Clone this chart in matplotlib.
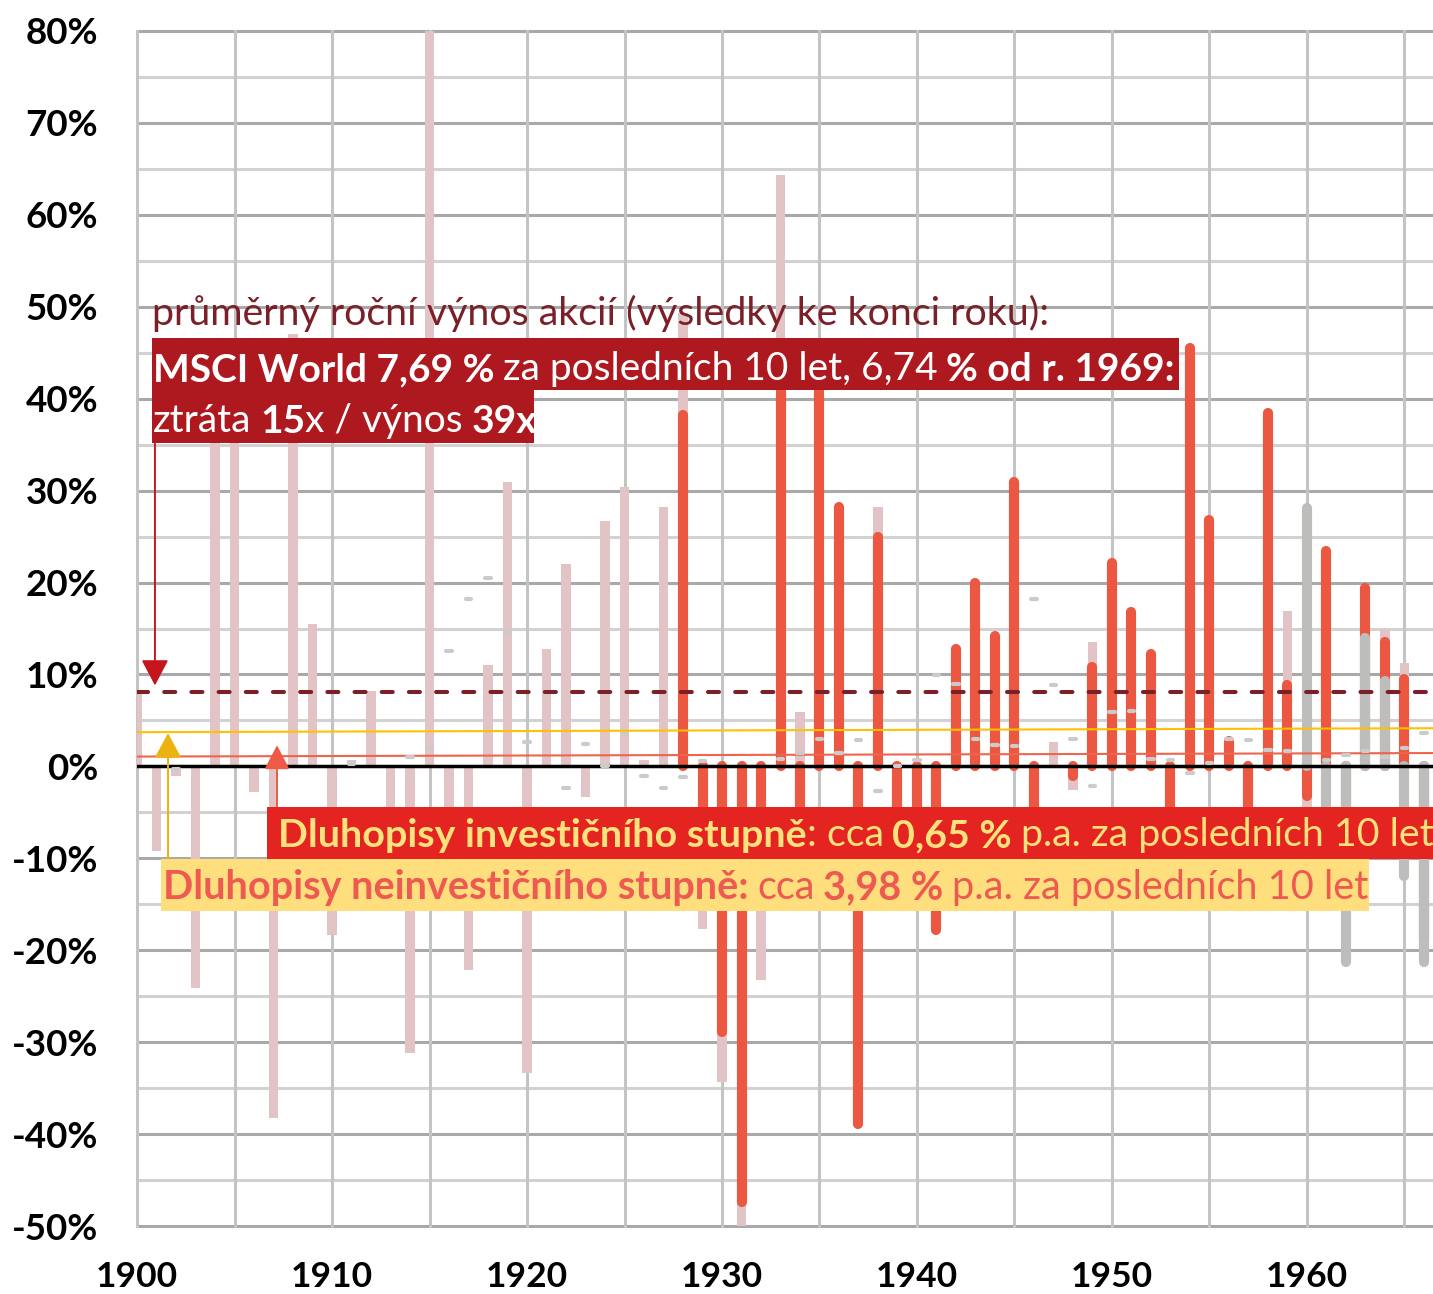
import numpy as np
import matplotlib.pyplot as plt
from matplotlib.patches import Rectangle, FancyArrowPatch
from matplotlib.text import Annotation

plt.rcParams['font.family'] = ['Lato', 'DejaVu Sans']

# ---- data (annual returns, %) ----
years = np.arange(1900, 1967)

# light pink series (whole range, drawn behind)
pink = [8.0, -9.2, -1.0, -24.1, 40.0, 38.0, -2.8, -38.3, 47.0, 15.5,
        -18.3, 0.7, 8.2, -5.0, -31.2, 82.0, -8.0, -22.2, 11.0, 30.9,
        -33.4, 12.8, 22.0, -3.3, 26.7, 30.4, 0.7, 28.2, 49.3, -17.7,
        -34.3, -52.0, -23.2, 64.3, 5.9, None, None, None, 28.2, None,
        None, None, None, None, None, None, None, 2.7, -2.6, 13.5,
        None, None, None, None, None, None, None, None, None, 16.9,
        -7.0, None, None, None, 15.0, 11.3, None]

# red series from 1928
red_years = np.arange(1928, 1967)
red = [38.2, -12.0, -28.9, -47.4, -9.0, 45.0, -6.0, 44.0, 28.2, -38.9,
       24.9, -5.5, -8.0, -17.8, 12.8, 19.9, 14.2, 30.9, -6.0, None,
       -1.0, 10.8, 22.1, 16.8, 12.2, -6.0, 45.5, 26.8, 2.8, -7.0,
       38.4, 8.8, -3.2, 23.4, -15.0, 19.4, 13.5, 9.5, -19.0]

# gray series from 1960
gray_years = np.arange(1960, 1967)
gray = [28.1, -10.0, -21.3, 14.0, 9.3, -11.9, -21.3]

# small gray markers (bonds)
bond = [None, None, -0.3, None, None, None, None, None, None, None,
        None, 0.3, None, None, 1.0, 2.0, 12.6, 18.2, 20.5, 14.6,
        2.6, None, -2.3, 2.4, 0.0, 3.5, -1.1, -2.3, -1.2, 0.6,
        None, None, None, 0.8, 1.5, 3.0, 1.5, 2.9, -2.7, 0.0,
        0.7, 9.9, 9.0, 3.0, 2.3, 2.2, 18.2, 8.8, 3.0, -2.1,
        5.9, 6.0, 0.8, 0.7, -0.7, 0.4, 3.0, 2.9, 1.8, 1.7,
        None, 0.7, 1.2, 1.7, 1.0, 2.0, 3.6]

msci_avg = 8.1            # dashed line
hy_line = [3.72, 4.15]    # yellow line, start / end
ig_line = [1.07, 1.45]    # thin red line, start / end

ylabels = list(range(-50, 81, 10))
xlabels = list(range(1900, 1961, 10))

# ---- figure ----
W, H = 1433, 1294
fig = plt.figure(figsize=(W / 100, H / 100), dpi=100)


def fx(px):
    return px / W


def fy(py):
    return 1 - py / H


ax = fig.add_axes([fx(137), fy(1226), fx(1433) - fx(137), fy(31) - fy(1226)])
xmax = 1900 + (1433 - 137) / 19.5
ax.set_xlim(1900, xmax)
ax.set_ylim(-50, 80)
for s in ax.spines.values():
    s.set_visible(False)

# grid
for yv in range(-50, 81, 5):
    ax.axhline(yv, color='#a9a9a9' if yv % 10 == 0 else '#d2d2d2', lw=2.2, zorder=0, clip_on=False)
for xv in range(1900, 1967, 5):
    ax.axvline(xv, color='#c4c4c4', lw=2.2, zorder=0, clip_on=False)


def arr(v):
    return np.array([np.nan if a is None else a for a in v], dtype=float)


p = arr(pink)
m = ~np.isnan(p)
ax.bar(years[m], p[m], width=0.5, color='#e3c4c6', zorder=2)

r = arr(red)
m = ~np.isnan(r)
lc = ax.vlines(red_years[m], 0, r[m], color='#eb5740', lw=7.3, zorder=3)
lc.set_capstyle('round')

g = arr(gray)
lc = ax.vlines(gray_years, 0, g, color='#bdbdbb', lw=7.3, zorder=4)
lc.set_capstyle('round')

ax.axhline(0, color='black', lw=2.5, zorder=5)
ax.axhline(msci_avg, color='#7b1f28', lw=2.9, ls=(0, (2.75, 4.0)),
           dash_capstyle='round', zorder=6)
ax.plot([1900, xmax], hy_line, color='#ffc000', lw=1.5, zorder=6)
ax.plot([1900, xmax], ig_line, color='#f0634d', lw=1.5, zorder=6)

b = arr(bond)
m = ~np.isnan(b)
lc = ax.hlines(b[m], years[m] - 0.15, years[m] + 0.15, color='#cbcbcb', lw=3, zorder=7)
lc.set_capstyle('round')

# arrows
def arrow(x, y0, y1, color, lw, hl, hw):
    a = FancyArrowPatch((x, y0), (x, y1),
                        arrowstyle='-|>,head_length=%s,head_width=%s' % (hl, hw),
                        mutation_scale=20, color=color, lw=lw,
                        shrinkA=0, shrinkB=0, zorder=8)
    ax.add_patch(a)


arrow(1900.92, 35.1, msci_avg + 0.7, '#c4161c', 1.4, 0.8, 0.42)
arrow(1901.59, -10.1, hy_line[0] - 0.1, '#ebb30f', 1.4, 0.78, 0.42)
arrow(1907.18, -4.5, 2.3, '#ee5a45', 1.4, 0.75, 0.39)

ax.set_yticks(ylabels)
ax.set_yticklabels([f'{v}%' for v in ylabels], fontsize=26.5, fontweight='bold')
ax.set_xticks(xlabels)
ax.set_xticklabels([str(v) for v in xlabels], fontsize=25.5, fontweight='bold')
ax.tick_params(axis='y', length=0, pad=28)
ax.tick_params(axis='x', length=0, pad=25)


# ---- annotation boxes ----
def box(x0, y0, x1, y1, color):
    fig.add_artist(Rectangle((fx(x0), fy(y1)), fx(x1) - fx(x0), fy(y0) - fy(y1),
                             transform=fig.transFigure, color=color, lw=0, zorder=9))


def rich(x_px, base_px, parts, color, size):
    sp = size * 0.22
    t = fig.text(fx(x_px), fy(base_px), parts[0][0], color=color, fontsize=size,
                 fontweight=parts[0][1], va='baseline', ha='left', zorder=10)
    for txt, wt, gap in parts[1:]:
        t = Annotation(txt, xy=(1, 0), xycoords=t, xytext=(gap * sp, 0),
                       textcoords='offset points', va='bottom', ha='left',
                       color=color, fontsize=size, fontweight=wt, zorder=10)
        fig.add_artist(t)
    return t


box(152, 338, 1179, 390, '#ae181f')
box(152, 390, 534, 443, '#ae181f')
box(267, 807, 1440, 859, '#e32420')
box(161, 859, 1369, 911, '#ffde7d')

rich(152, 325, [('průměrný roční výnos akcií (výsledky ke konci roku):', 'normal')],
     '#7b1f28', 28.4)
rich(153, 381, [('MSCI World 7,69 %', 'bold'),
                ('za posledních 10 let, 6,74', 'normal', 1),
                ('% od r. 1969:', 'bold', 1)], 'white', 28.0)
rich(153, 432, [('ztráta', 'normal'), ('15', 'bold', 1), ('x / výnos', 'normal', 0),
                ('39x', 'bold', 1)], 'white', 28.0)
rich(278, 847, [('Dluhopisy investičního stupně', 'bold'), (': cca', 'normal', 0),
                ('0,65 %', 'bold', 1), ('p.a. za posledních 10 let', 'normal', 1)],
     '#ffe27e', 28.4)
rich(163, 899, [('Dluhopisy neinvestičního stupně:', 'bold'), ('cca', 'normal', 1),
                ('3,98 %', 'bold', 1), ('p.a. za posledních 10 let', 'normal', 1)],
     '#ee5a52', 28.5)

fig.savefig('out.png', dpi=100)
